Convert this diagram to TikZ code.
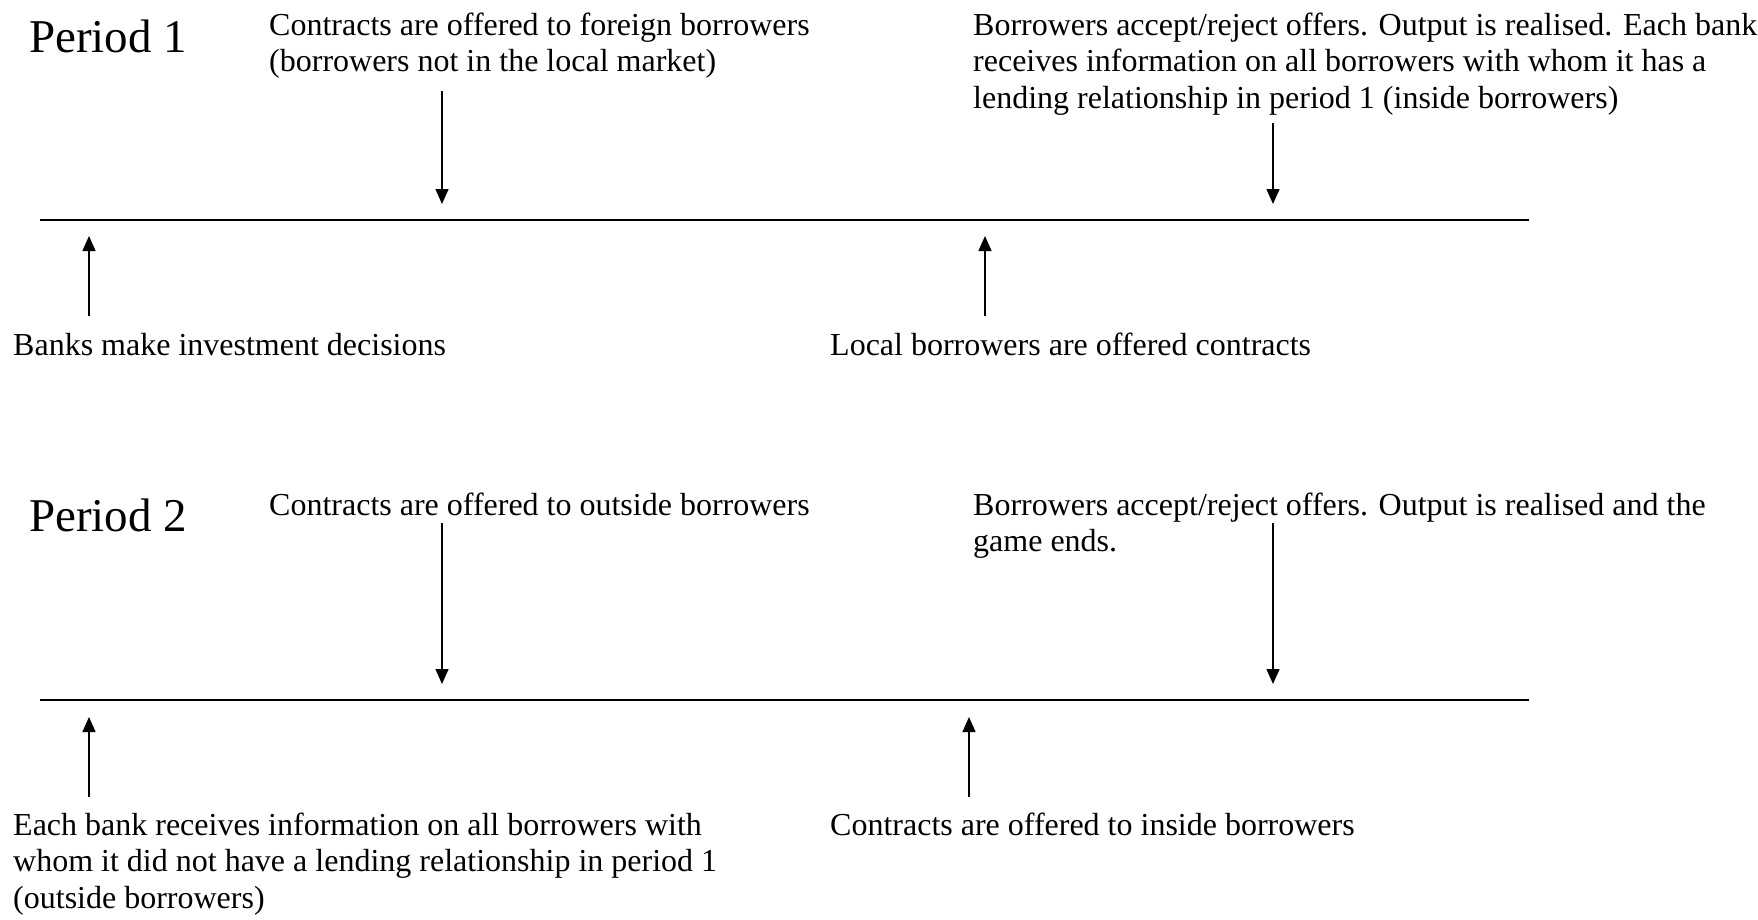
\documentclass[tikz,border=0pt]{standalone}
\usepackage{fontspec}
\setmainfont{Liberation Serif}
\usetikzlibrary{arrows.meta}

\begin{document}
\begin{tikzpicture}[x=1pt,y=-1pt,
	eventtext/.style={font=\fontsize{32}{36.5}\selectfont, align=left, inner sep=0pt, anchor=base west},
	periodtext/.style={font=\fontsize{47}{50}\selectfont, inner sep=0pt, anchor=base west},
	timeline/.style={line width=2.4pt},
	pointer/.style={line width=1.4pt, -{Triangle[width=13pt,length=15pt]}}]
	\useasboundingbox (0,0) rectangle (1758,919);

	% period 1 (base of a text block = its last line)
	\node[periodtext] (per1) at (29,52) {Period 1};
	\node[eventtext] (foreign) at (269,71.5) {Contracts are offered to foreign borrowers\\(borrowers not in the local market)};
	\node[eventtext] (accept1) at (973,108) {Borrowers accept/reject offers. Output is realised. Each bank\\receives information on all borrowers with whom it has a\\lending relationship in period 1 (inside borrowers)};
	\node[eventtext] (invest) at (13,355) {Banks make investment decisions};
	\node[eventtext] (local) at (830,355) {Local borrowers are offered contracts};

	\coordinate (t1-l) at (40,220);
	\coordinate (t1-r) at (1529,220);
	\coordinate (foreign-s) at (442,91);
	\coordinate (foreign-e) at (442,204);
	\coordinate (accept1-s) at (1273,123);
	\coordinate (accept1-e) at (1273,204);
	\coordinate (invest-s) at (89,316);
	\coordinate (invest-e) at (89,236);
	\coordinate (local-s) at (985,316);
	\coordinate (local-e) at (985,236);

	\draw[timeline] (t1-l) -- (t1-r);
	\path[pointer]
	(foreign-s) edge (foreign-e)
	(accept1-s) edge (accept1-e)
	(invest-s) edge (invest-e)
	(local-s) edge (local-e)
	;

	% period 2
	\node[periodtext] (per2) at (29,531) {Period 2};
	\node[eventtext] (outside) at (269,515) {Contracts are offered to outside borrowers};
	\node[eventtext] (accept2) at (973,551.5) {Borrowers accept/reject offers. Output is realised and the\\game ends.};
	\node[eventtext] (info) at (13,908) {Each bank receives information on all borrowers with\\whom it did not have a lending relationship in period 1\\(outside borrowers)};
	\node[eventtext] (inside) at (830,835) {Contracts are offered to inside borrowers};

	\coordinate (t2-l) at (40,700);
	\coordinate (t2-r) at (1529,700);
	\coordinate (outside-s) at (442,523);
	\coordinate (outside-e) at (442,684);
	\coordinate (accept2-s) at (1273,523);
	\coordinate (accept2-e) at (1273,684);
	\coordinate (info-s) at (89,797);
	\coordinate (info-e) at (89,717);
	\coordinate (inside-s) at (969,797);
	\coordinate (inside-e) at (969,717);

	\draw[timeline] (t2-l) -- (t2-r);
	\path[pointer]
	(outside-s) edge (outside-e)
	(accept2-s) edge (accept2-e)
	(info-s) edge (info-e)
	(inside-s) edge (inside-e)
	;
\end{tikzpicture}
\end{document}
